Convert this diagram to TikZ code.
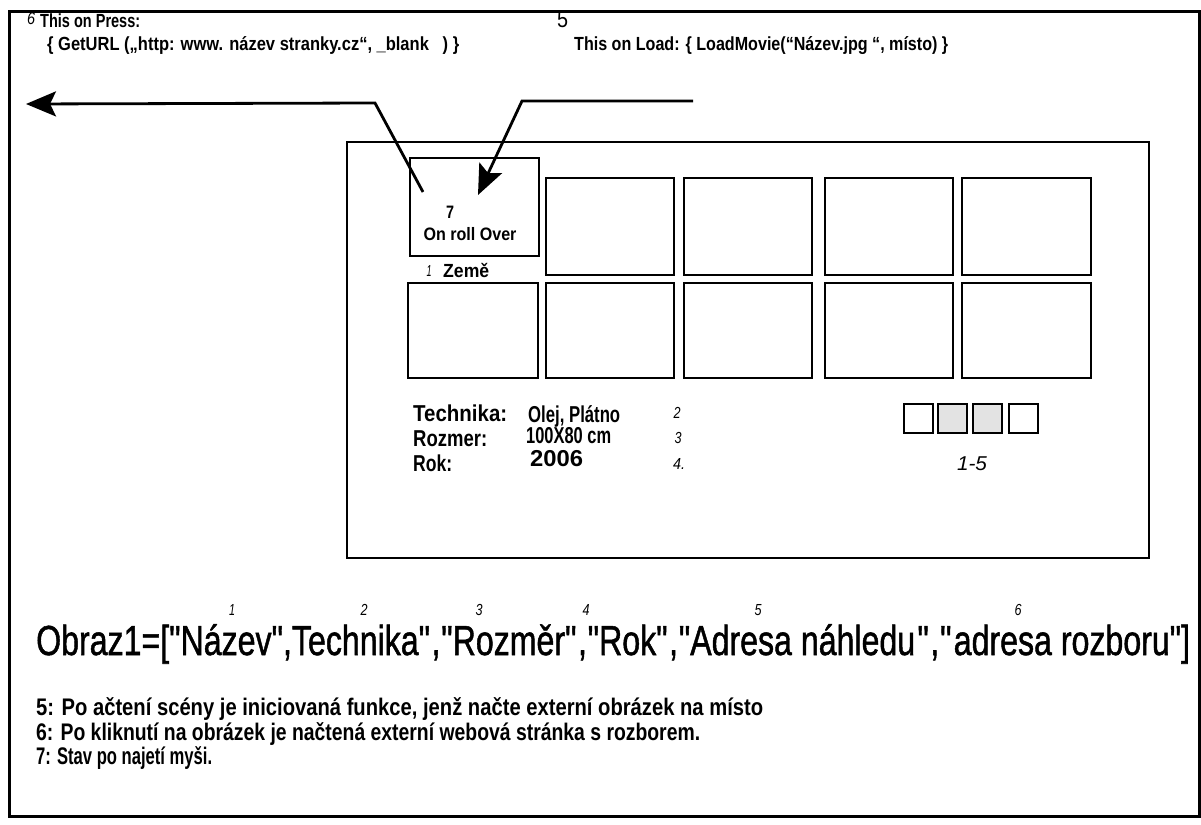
\documentclass[tikz,border=0pt]{standalone}
\usepackage{fontspec}
\usepackage{graphicx}
\usetikzlibrary{arrows.meta}
\setmainfont{Liberation Sans}[Ligatures=TeXOff]
\newfontfamily\itf{Liberation Sans}[Ligatures=TeXOff]
\newfontfamily\obf{Liberation Sans}[Ligatures=TeXOff, FakeBold=1.3]
\newsavebox\fitbox
\newcommand\fitw[2]{\sbox\fitbox{#2}\scalebox{\fpeval{(#1)/(\the\wd\fitbox)}}[1]{\usebox\fitbox}}
\tikzset{
  frame/.style={draw, line width=3pt},
  panel/.style={draw, line width=2pt, minimum width=802pt, minimum height=416pt, inner sep=0pt},
  cell/.style={draw, line width=2pt, inner sep=0pt},
  sq/.style={draw, line width=1.4pt, inner sep=0pt, minimum width=29pt, minimum height=29pt},
  arr/.style={line width=2.8pt, -{Stealth[length=30pt,width=25pt,inset=6pt]}},
  txt/.style={inner sep=0pt, anchor=base west, font=\bfseries\fontsize{19}{20}\selectfont},
  big/.style={inner sep=0pt, anchor=base west, font=\bfseries\fontsize{23}{24}\selectfont},
  note/.style={inner sep=0pt, anchor=base west, font=\bfseries\fontsize{24}{24}\selectfont},
  num/.style={inner sep=0pt, anchor=base, font=\itf\itshape\fontsize{16}{16}\selectfont},
}
\newcommand\cellnode[5]{\node[cell, minimum width={(#4-#2)*1pt}, minimum height={(#5-#3)*1pt}] (#1) at ({(#2+#4)/2},{(#3+#5)/2}) {};}
\begin{document}
\begin{tikzpicture}[x=1pt,y=-1pt]
\useasboundingbox (0,0) rectangle (1201,824);
\fill[white] (0,0) rectangle (1201,824);
\node[frame, inner sep=0pt, minimum width=1190pt, minimum height=804pt] (outer) at (604,414) {};
% panel
\node[panel] (panel) at (748,350) {};
% cells
\cellnode{b7}{410}{158}{539}{256}
\cellnode{t2}{546}{178}{674}{275}
\cellnode{t3}{684}{178}{812}{275}
\cellnode{t4}{825}{178}{953}{275}
\cellnode{t5}{962}{178}{1091}{275}
\cellnode{u1}{408}{283}{538}{378}
\cellnode{u2}{546}{283}{674}{378}
\cellnode{u3}{684}{283}{812}{378}
\cellnode{u4}{825}{283}{953}{378}
\cellnode{u5}{962}{283}{1091}{378}
% box 7 text
\node[inner sep=0pt, anchor=base, font=\bfseries\fontsize{18}{18}\selectfont] (seven) at (450,218) {\fitw{8}{7}};
\node[inner sep=0pt, anchor=base, font=\bfseries\fontsize{18}{18}\selectfont] (roll) at (470,240) {\fitw{93}{On roll Over}};
\node[num] (n1z) at (429,276) {\fitw{5}{1}};
\node[txt] (zeme) at (443,277) {\fitw{46}{Země}};
% small squares
\node[sq] (s1) at (918.5,418.5) {};
\node[sq, fill=gray!22] (s2) at (952.5,418.5) {};
\node[sq, fill=gray!22] (s3) at (987.5,418.5) {};
\node[sq] (s4) at (1023.5,418.5) {};
\node[inner sep=0pt, anchor=base, font=\itf\itshape\fontsize{20}{20}\selectfont] (r15) at (972,470) {\fitw{30}{1-5}};
% info rows
\node[big] (tech) at (413,421) {\fitw{94}{Technika:}};
\node[big] (olej) at (528,422) {\fitw{92}{Olej, Plátno}};
\node[num] (n2) at (677,418) {\fitw{7}{2}};
\node[big] (rozm) at (413,446) {\fitw{74}{Rozmer:}};
\node[big] (dim) at (526,443) {\fitw{85}{100X80 cm}};
\node[num] (n3) at (678,443) {\fitw{7}{3}};
\node[big] (rok) at (413,471) {\fitw{39}{Rok:}};
\node[big] (year) at (530,466) {\fitw{53}{2006}};
\node[num] (n4) at (679,469) {\fitw{12}{4.}};
% top texts
\node[num, anchor=base west, font=\itf\itshape\fontsize{17}{16}\selectfont] (six) at (27,25) {\fitw{8}{6}};
\node[txt] (press) at (40,28) {\fitw{100}{This on Press:}};
\node[txt] (geturl) at (47,51) {\fitw{412}{\{ GetURL („http: www. název stranky.cz“, \_blank \ \ ) \}}};
\node[inner sep=0pt, anchor=base west, font=\fontsize{23}{22}\selectfont] (five) at (557,28) {\fitw{11}{5}};
\node[txt] (load) at (574,51) {\fitw{374}{This on Load: \{ LoadMovie(“Název.jpg “, místo) \}}};
% arrows
\coordinate (a6s) at (423,192);
\coordinate (a6c) at (375,103);
\coordinate (a6e) at (26,104);
\draw[arr] (a6s) -- (a6c) -- (a6e);
\coordinate (a5s) at (693,101);
\coordinate (a5c) at (522,101);
\coordinate (a5e) at (478,195);
\draw[arr] (a5s) -- (a5c) -- (a5e);
% array line numbers
\node[num] (o1) at (232,615) {\fitw{6}{1}};
\node[num] (o2) at (364,615) {\fitw{7}{2}};
\node[num] (o3) at (479,615) {\fitw{7}{3}};
\node[num] (o4) at (586,615) {\fitw{7}{4}};
\node[num] (o5) at (758,615) {\fitw{7}{5}};
\node[num] (o6) at (1018,615) {\fitw{7}{6}};
\node[inner sep=0pt, anchor=base west, font=\obf\fontsize{42}{44}\selectfont] (obraz) at (36,655) {\fitw{1154}{Obraz1=["Název",Technika"\kern2pt,\kern1pt"Rozměr"\kern2pt,\kern1pt"Rok"\kern2pt,\kern1pt"Adresa náhledu\kern3pt"\kern2pt,\kern1pt"\kern3pt adresa rozboru"]}};
% notes
\node[note] (note5) at (36,715) {\fitw{727}{5: Po ačtení scény je iniciovaná funkce, jenž načte externí obrázek na místo}};
\node[note] (note6) at (36,740) {\fitw{664}{6: Po kliknutí na obrázek je načtená externí webová stránka s rozborem.}};
\node[note] (note7) at (36,764) {\fitw{176}{7: Stav po najetí myši.}};
\end{tikzpicture}
\end{document}
